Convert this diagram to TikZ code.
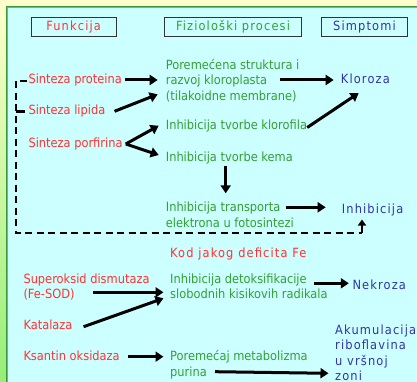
\documentclass[tikz,border=0pt]{standalone}
\usepackage{fontspec}
\setmainfont{DejaVu Sans Condensed}
\newfontfamily\spcfont{DejaVu Sans Condensed}[LetterSpace=9]
\usetikzlibrary{arrows.meta,calc}
\definecolor{redt}{RGB}{255,51,51}
\definecolor{greent}{RGB}{51,160,51}
\definecolor{bluet}{RGB}{51,51,170}
\definecolor{panel}{RGB}{204,255,255}
\definecolor{bgtop}{RGB}{255,255,204}
\definecolor{bgbot}{RGB}{150,238,120}
\definecolor{bordg}{RGB}{60,150,60}
\definecolor{bordt}{RGB}{190,150,110}
\newcommand{\fsr}{\rule{0pt}{10.5pt}}
\begin{document}
\begin{tikzpicture}[x=1pt,y=-1pt,
  txt/.style={inner sep=0pt,anchor=west,text height=10pt,text depth=3pt,font=\fontsize{12.7}{15.5}\selectfont},
  stxt/.style={txt,font=\spcfont\fontsize{12.7}{15.5}\selectfont},
  mltxt/.style={inner sep=0pt,anchor=north west,align=left,font=\fontsize{12.7}{15.5}\selectfont},
  smltxt/.style={mltxt,font=\spcfont\fontsize{12.7}{15.5}\selectfont},
  hdr/.style={draw=black!80,line width=0.9pt,fill=panel,inner sep=0pt,minimum height=19pt,
    font=\spcfont\fontsize{12.7}{15.5}\selectfont},
  arr/.style={line width=3pt,-{Triangle[length=8pt,width=10pt]}},
  sarr/.style={line width=2.8pt,-{Triangle[length=6pt,width=8pt]}},
  dsh/.style={line width=2.8pt,dash pattern=on 7pt off 4.5pt}
]
\useasboundingbox (0,0) rectangle (417,382);
% background
\shade[top color=bgtop,bottom color=bgbot] (0,0) rectangle (417,382);
\fill[panel] (8.3,8.3) rectangle (420,385);
\draw[bordg,line width=1.3pt] (6.65,390) -- (6.65,6.65) -- (420,6.65);
\draw[bordt,line width=1pt] (7.8,390) -- (7.8,7.8) -- (420,7.8);

% headers
\node[hdr,minimum width=85pt,text=redt] (hf) at (73.6,26.8) {Funkcija};
\node[hdr,minimum width=137pt,text=greent] (hp) at (233,26.8) {Fiziološki procesi};
\node[hdr,minimum width=85.5pt,text=bluet] (hs) at (364.5,26.8) {Simptomi};

% left column
\node[txt,text=redt] (sp) at (28.3,80) {Sinteza proteina};
\node[txt,text=redt] (sl) at (28.3,111.3) {Sinteza lipida};
\node[txt,text=redt] (spf) at (28.3,144) {Sinteza porfirina};

% middle column
\node[mltxt,text=greent] (por) at (165.7,58.5) {\fsr Poremećena struktura i\\razvoj kloroplasta\\(tilakoidne membrane)};
\node[txt,text=greent] (itk) at (165.7,126.5) {Inhibicija tvorbe klorofila};
\node[txt,text=greent] (ikm) at (165.7,158.3) {Inhibicija tvorbe kema};
\node[mltxt,text=greent] (itr) at (165.7,200.8) {\fsr Inhibicija transporta\\elektrona u fotosintezi};

% right column
\node[stxt,text=bluet] (klo) at (340.7,80) {Kloroza};
\node[stxt,text=bluet] (inh) at (341.7,210) {Inhibicija};

% lower part
\node[stxt,text=redt] (kod) at (170,254) {Kod jakog deficita Fe};
\node[mltxt,text=redt] (sod) at (23.3,272.5) {\fsr Superoksid dismutaza\\(Fe-SOD)};
\node[txt,text=redt] (kat) at (23.3,325.7) {Katalaza};
\node[txt,text=redt] (kso) at (23.3,356.7) {Ksantin oksidaza};
\node[mltxt,text=greent] (idt) at (170,272.5) {\fsr Inhibicija detoksifikacije\\slobodnih kisikovih radikala};
\node[mltxt,text=greent] (pmp) at (170,350.2) {\fsr Poremećaj metabolizma\\purina};
\node[stxt,text=bluet] (nek) at (352.3,285.7) {Nekroza};
\node[smltxt,text=bluet] (aku) at (335,323.5) {\fsr Akumulacija\\riboflavina\\u vršnoj\\zoni};

% arrows upper part
\draw[arr] ($(sp.east)+(3,0)$) -- ($(sp.east -| por.west)+(-8,0)$);
\draw[arr] ($(klo.west)+(-61,0)$) -- ($(klo.west)+(-7,0)$);
\draw[arr] ($(sl.east)+(9,0)$) -- ($(sp.east -| por.west)+(-8,14.3)$);
\draw[arr] ($(itk.east)+(0,1)$) -- ($(klo.west)+(18,13)$);
\draw[arr] ($(spf.east)+(3,0)$) -- ($(itk.west)+(-7,-0.8)$);
\draw[arr] ($(spf.east)+(3,0)$) -- ($(ikm.west)+(-7,-3.3)$);
\draw[arr] ($(ikm.west)+(60,7.7)$) -- ($(itr.north west)+(60,-7.5)$);
\draw[arr] ($(inh.west)+(-56,-2.7)$) -- ($(inh.west)+(-16,-2.7)$);

% dashed feedback line
\coordinate (dc1) at (16,233);
\coordinate (dc2) at (362,233);
\draw[dsh] ($(sp.west)+(-1,1)$) -| (dc1) -- (dc2);
\draw[line width=2.8pt] (dc1 |- sl.west) -- ($(sl.west)+(-3.5,0)$);
\draw[sarr] (dc2) -- ($(inh.west)+(20.3,9.5)$);

% arrows lower part
\draw[arr] ($(sod.north west)+(70,19.8)$) -- ($(idt.north west)+(-6.5,19.8)$);
\draw[arr] ($(kat.east)+(11,1)$) -- ($(idt.north west)+(-6.5,25.8)$);
\draw[arr] ($(nek.west)+(-38.3,-2.4)$) -- ($(nek.west)+(-3.5,-2.4)$);
\draw[arr] ($(kso.east)+(7.7,0)$) -- ($(pmp.north west)+(-6.5,6.5)$);
\draw[arr] ($(pmp.north west)+(45,21.5)$) -- ($(aku.north west)+(-6.5,49.8)$);
\end{tikzpicture}
\end{document}
